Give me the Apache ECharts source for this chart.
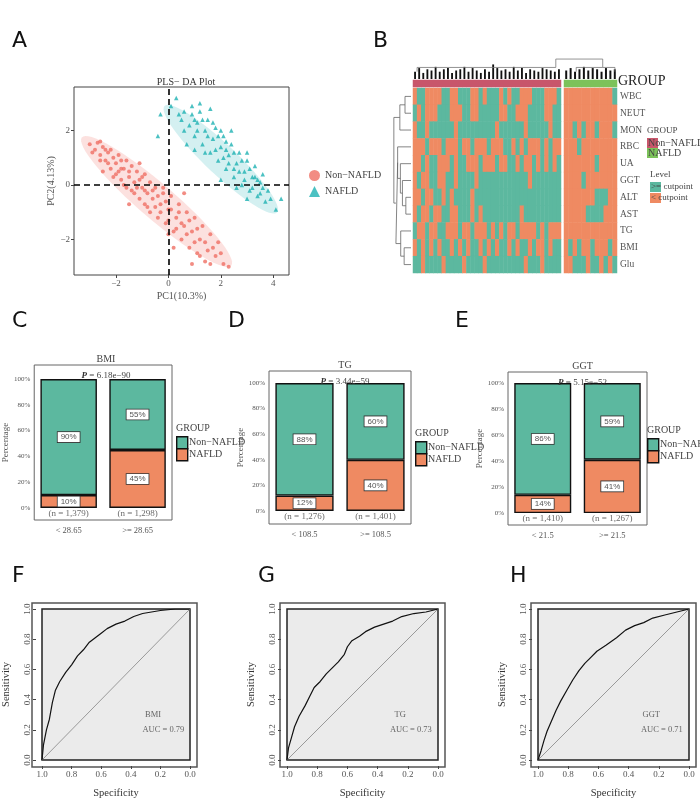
<!DOCTYPE html>
<html><head><meta charset="utf-8">
<script src="https://cdn.jsdelivr.net/npm/echarts@6/dist/echarts.min.js"></script>
<style>html,body{margin:0;background:#fff}#c{width:700px;height:800px}</style>
</head><body><div id="c"></div>
<script>
// ---------- DATA ----------
const pcaNon = [[-3.0,1.5],[-2.8,1.3],[-2.7,1.55],[-2.6,1.1],[-2.5,1.4],[-2.4,0.9],[-2.3,1.2],[-2.2,0.6],[-2.1,1.0],[-2.0,0.4],[-2.0,0.8],[-1.9,1.1],[-1.8,0.2],[-1.7,0.6],[-1.6,0.9],[-1.6,-0.1],[-1.5,0.3],[-1.4,0.7],[-1.3,-0.3],[-1.3,0.1],[-1.2,0.5],[-1.1,-0.5],[-1.0,-0.1],[-1.0,0.3],[-0.9,-0.7],[-0.8,-0.3],[-0.7,0.1],[-0.7,-1.0],[-0.6,-0.5],[-0.5,-0.1],[-0.4,-1.2],[-0.3,-0.7],[-0.2,-0.3],[-0.1,-1.4],[0.0,-0.9],[0.1,-0.4],[0.2,-1.7],[0.3,-1.2],[0.4,-0.7],[0.5,-2.0],[0.6,-1.5],[0.7,-1.0],[0.8,-2.3],[0.9,-1.7],[1.0,-1.2],[1.1,-2.5],[1.2,-2.0],[1.3,-1.5],[1.5,-2.4],[1.6,-1.8],[1.8,-2.6],[1.9,-2.1],[2.1,-2.9],[2.3,-3.0],[0.9,-2.9],[-1.5,-0.7],[-2.5,0.5],[0.6,-0.3],[-2.2,1.3],[-1.1,0.8],[-0.4,-0.4],[0.2,-2.3],[1.4,-2.8],[-0.9,0.4],[0.0,-1.8],
 [-2.9,1.2],[-2.6,1.6],[-2.4,1.3],[-2.3,0.8],[-2.1,0.3],[-1.9,0.5],[-1.8,0.9],[-1.7,0.0],[-1.5,0.5],[-1.4,-0.2],[-1.2,-0.1],[-1.1,0.2],[-0.9,-0.2],[-0.8,-0.8],[-0.6,-0.2],[-0.5,-0.8],[-0.3,-1.0],[-0.2,-0.1],[0.0,-1.3],[0.1,-0.9],[0.3,-1.6],[0.4,-1.0],[0.5,-1.4],[0.7,-1.8],[0.8,-1.3],[1.0,-2.1],[1.1,-1.6],[1.2,-2.6],[1.4,-2.1],[1.7,-2.3],[2.0,-2.5],[1.6,-2.9],[-0.1,-0.6],[-1.8,0.6],[-2.6,0.9]];
const pcaNaf = [[0.3,3.2],[-0.3,2.6],[-0.4,1.8],[0.1,2.9],[0.5,2.4],[0.6,2.7],[0.8,2.2],[0.9,2.6],[1.0,1.8],[1.1,2.3],[1.2,2.7],[1.3,1.5],[1.4,2.0],[1.5,2.4],[1.6,1.2],[1.7,1.7],[1.8,2.1],[1.9,0.9],[2.0,1.4],[2.1,1.8],[2.2,0.6],[2.3,1.1],[2.4,1.5],[2.5,0.3],[2.6,0.8],[2.7,1.2],[2.8,0.0],[2.9,0.5],[3.0,0.9],[3.1,-0.2],[3.2,0.3],[3.3,0.7],[3.4,-0.4],[3.5,0.1],[3.6,0.4],[3.7,-0.6],[3.8,-0.2],[4.1,-0.9],[4.3,-0.5],[1.0,1.3],[2.0,0.2],[1.2,3.0],[0.7,1.5],[2.6,-0.1],[3.0,-0.5],[1.6,2.8],[2.2,1.3],[3.4,0.2],
 [0.6,2.0],[0.9,2.9],[1.1,2.0],[1.3,2.4],[1.4,1.2],[1.5,1.8],[1.7,2.3],[1.8,1.3],[1.9,1.8],[2.1,1.0],[2.2,1.6],[2.3,0.8],[2.5,1.2],[2.5,0.6],[2.7,0.5],[2.8,0.9],[2.9,0.2],[3.1,0.6],[3.2,-0.1],[3.3,0.3],[3.5,-0.3],[3.6,-0.1],[3.9,-0.5],[2.4,2.0],[1.0,2.4],[0.4,2.6],[2.0,2.0],[3.0,1.2]];
const ellNon = {c:[-0.45,-0.6], a:[2.85,-2.35], b:[0.42,0.5]};
const ellNaf = {c:[2.0,0.95], a:[2.15,-1.95], b:[0.38,0.42]};

const heatRows = ['WBC','NEUT','MON','RBC','UA','GGT','ALT','AST','TG','BMI','Glu'];
// 1 = "< cutpoint" (orange), 0 = ">= cutpoint" (teal)
const heatNon = [
 "100111100110001101000101001110001110",
 "010111000111001100000110011100001100",
 "100100000010000000001000000100000100",
 "111011101110110111011100101011101011",
 "110100111010011101110110010110101010",
 "101100110010000100000000000010000000",
 "110110010100001000000000000000000000",
 "101101100110001010000000001000000000",
 "011011001110110111010101101111010111",
 "101010100101010010101001010010110100",
 "001000010000100001000000000100010000"];
const heatNaf = [
 "111111111110","111111111111","110101101110","111011111111","111111101111",
 "111101111111","111111100011","111110000111","111111111111","101011011101","110001001010"];
const dendNon = [6,9,5,8,7,10,6,8,9,5,7,8,10,6,9,7,5,8,6,12,9,7,8,6,10,7,9,5,8,7,6,9,8,7,6,8];
const dendNaf = [7,9,6,8,10,7,9,8,6,9,7,8];
const rowMerges = [[0,1,0.35],[11,2,0.65],[6,7,0.3],[5,13,0.5],[4,14,0.62],[3,15,0.78],[9,10,0.4],[8,17,0.6],[16,18,0.88],[12,19,1.0]];

const barPanels = [
 {title:'BMI', p:'6.18e−90', cats:['< 28.65','>= 28.65'], non:[90,55], naf:[10,45], n:['(n = 1,379)','(n = 1,298)']},
 {title:'TG',  p:'3.44e−59', cats:['< 108.5','>= 108.5'], non:[88,60], naf:[12,40], n:['(n = 1,276)','(n = 1,401)']},
 {title:'GGT', p:'5.15e−52', cats:['< 21.5','>= 21.5'],  non:[86,59], naf:[14,41], n:['(n = 1,410)','(n = 1,267)']}];

const rocF = [[1,0],[0.99,0.1],[0.97,0.2],[0.95,0.27],[0.93,0.38],[0.91,0.46],[0.88,0.52],[0.84,0.58],[0.8,0.63],[0.76,0.69],[0.72,0.73],[0.68,0.78],[0.64,0.81],[0.6,0.84],[0.56,0.87],[0.5,0.9],[0.44,0.92],[0.38,0.95],[0.32,0.97],[0.26,0.98],[0.2,0.99],[0.1,1],[0,1]];
const rocG = [[1,0],[0.99,0.08],[0.97,0.15],[0.95,0.22],[0.92,0.29],[0.88,0.36],[0.85,0.42],[0.82,0.48],[0.78,0.52],[0.74,0.57],[0.7,0.61],[0.66,0.65],[0.62,0.7],[0.6,0.75],[0.57,0.79],[0.52,0.82],[0.48,0.85],[0.42,0.88],[0.36,0.9],[0.3,0.92],[0.24,0.95],[0.16,0.97],[0.08,0.98],[0,1]];
const rocH = [[1,0],[0.98,0.06],[0.96,0.13],[0.94,0.19],[0.91,0.26],[0.88,0.33],[0.85,0.39],[0.81,0.46],[0.77,0.53],[0.73,0.59],[0.69,0.64],[0.65,0.68],[0.61,0.72],[0.55,0.76],[0.48,0.81],[0.42,0.86],[0.36,0.89],[0.3,0.91],[0.24,0.94],[0.16,0.96],[0.08,0.98],[0,1]];
const rocPanels = [{name:'BMI',auc:'AUC = 0.79',d:rocF},{name:'TG',auc:'AUC = 0.73',d:rocG},{name:'GGT',auc:'AUC = 0.71',d:rocH}];

// ---------- BUILD ----------
const SERIF = 'Liberation Serif';
const TEAL='#5cb89f', ORANGE='#ef8a62', RED='#ef6f64', CYAN='#1eb1b3', GRP_NON='#c8566b', GRP_NAF='#7cc25a';
const grids=[], xAxis=[], yAxis=[], series=[], titles=[], graphics=[], heatIdx=[];
function G(g,xa,ya){grids.push(Object.assign({containLabel:false},g));const i=grids.length-1;xa.gridIndex=i;ya.gridIndex=i;
 xa.axisLine=Object.assign({onZero:false},xa.axisLine||{});ya.axisLine=Object.assign({onZero:false},ya.axisLine||{});
 xAxis.push(xa);yAxis.push(ya);return i;}
const hidden = (t)=>({type:t||'value',show:false});
const lab = (s)=>({fontFamily:SERIF,fontSize:s||9,color:'#555'});

// Panel A
const gA = G({left:74,top:87,width:215,height:188,show:true,borderColor:'#444',borderWidth:1},
 {type:'value',min:-3.6,max:4.6,axisLine:{show:false},splitLine:{show:false},
  axisTick:{customValues:[-2,0,2,4],length:3,lineStyle:{color:'#444'}},axisLabel:Object.assign({customValues:[-2,0,2,4],margin:4,formatter:v=>String(v).replace('-','−')},lab(9)),
  name:'PC1(10.3%)',nameLocation:'middle',nameGap:16,nameTextStyle:lab(10)},
 {type:'value',min:-3.3,max:3.6,axisLine:{show:false},splitLine:{show:false},
  axisTick:{customValues:[-2,0,2],length:3,lineStyle:{color:'#444'}},axisLabel:Object.assign({customValues:[-2,0,2],margin:4,formatter:v=>String(v).replace('-','−')},lab(9)),
  name:'PC2(4.13%)',nameLocation:'middle',nameGap:14,nameTextStyle:lab(10)});
function ellSeries(e,color){
 return {type:'custom',xAxisIndex:gA,yAxisIndex:gA,silent:true,z:1,data:[[e.c[0],e.c[1]]],
  renderItem:(p,api)=>{const pts=[];for(let k=0;k<64;k++){const t=k/64*2*Math.PI;
    pts.push(api.coord([e.c[0]+Math.cos(t)*e.a[0]+Math.sin(t)*e.b[0], e.c[1]+Math.cos(t)*e.a[1]+Math.sin(t)*e.b[1]]));}
    return {type:'polygon',shape:{points:pts},style:{fill:color}};}};
}
series.push(ellSeries(ellNon,'rgba(240,120,110,0.22)'), ellSeries(ellNaf,'rgba(40,180,185,0.2)'));
series.push({type:'scatter',name:'Non−NAFLD',xAxisIndex:gA,yAxisIndex:gA,data:pcaNon,symbolSize:4,itemStyle:{color:RED},z:3,
 markLine:{silent:true,symbol:'none',label:{show:false},lineStyle:{color:'#000',type:[6,4],width:1.6},data:[{xAxis:0},{yAxis:0}]}});
series.push({type:'scatter',name:'NAFLD',xAxisIndex:gA,yAxisIndex:gA,data:pcaNaf,symbol:'triangle',symbolSize:4.5,itemStyle:{color:CYAN},z:3});
titles.push({text:'PLS− DA Plot',left:181,top:72,textAlign:'center',textStyle:{fontFamily:SERIF,fontSize:10,color:'#333',fontWeight:'normal'}});

// Panel B heatmaps (value: 0 teal, 1 orange, 2 group non, 3 group nafld)
function heatData(rows){const d=[];rows.forEach((r,ri)=>{for(let c=0;c<r.length;c++){d.push([c,ri,+r[c]]);}});return d;}
function heatGrid(left,width,rows,isNaf){
 const n=rows[0].length, cats=[...Array(n).keys()];
 const gi=G({left:left,top:88,width:width,height:185},{type:'category',data:cats,show:false},
  {type:'category',data:heatRows,inverse:true,position:'right',axisLine:{show:false},axisTick:{show:false},
   axisLabel:Object.assign({show:isNaf,margin:3},lab(9.5)),show:true});
 series.push({type:'heatmap',xAxisIndex:gi,yAxisIndex:gi,data:heatData(rows),silent:true});
 heatIdx.push(series.length-1);
 const gb=G({left:left,top:80,width:width,height:7},{type:'category',data:[0],show:false},{type:'category',data:[0],show:false});
 series.push({type:'heatmap',xAxisIndex:gb,yAxisIndex:gb,data:[[0,0,isNaf?3:2]],silent:true});
 heatIdx.push(series.length-1);
}
heatGrid(413,148,heatNon,false);
heatGrid(564,53,heatNaf,true);
function dendGrid(left,width,h){
 const gi=G({left:left,top:62,width:width,height:17},{type:'category',data:h.map((_,i)=>i),show:false},{type:'value',min:0,max:14,show:false});
 series.push({type:'bar',xAxisIndex:gi,yAxisIndex:gi,data:h,barWidth:'45%',itemStyle:{color:'#111'},silent:true});
}
dendGrid(413,148,dendNon); dendGrid(564,53,dendNaf);
{const gi=G({left:413,top:58,width:204,height:21},{type:'value',min:0,max:1,show:false},{type:'value',min:0,max:1,show:false});
 series.push({type:'line',xAxisIndex:gi,yAxisIndex:gi,symbol:'none',silent:true,lineStyle:{color:'#777',width:0.8},
  data:[[0.02,0.35],[0.02,0.55],[0.7,0.55],[0.7,0.95],[0.93,0.95],[0.93,0.55],[0.8,0.55],[0.8,0.35],null,[0.93,0.55],[0.99,0.55],[0.99,0.35]],connectNulls:false});}
{const gi=G({left:393,top:88,width:18,height:185},{type:'value',min:0,max:1.05,inverse:true,show:false},{type:'value',min:0,max:11,inverse:true,show:false});
 const pos=heatRows.map((_,i)=>i+0.5), hts=heatRows.map(()=>0), segs=[];
 rowMerges.forEach(([a,b,h])=>{segs.push([hts[a],pos[a]],[h,pos[a]],[h,pos[b]],[hts[b],pos[b]],null);pos.push((pos[a]+pos[b])/2);hts.push(h);});
 series.push({type:'line',xAxisIndex:gi,yAxisIndex:gi,data:segs,symbol:'none',silent:true,connectNulls:false,lineStyle:{color:'#666',width:0.8}});}
graphics.push(
 {type:'text',left:618,top:74,style:{text:'GROUP',font:'14px "Liberation Serif"',fill:'#222'}},
 {type:'text',left:647,top:126,style:{text:'GROUP',font:'9px "Liberation Serif"',fill:'#444'}},
 {type:'rect',left:647,top:138,shape:{width:11,height:10},style:{fill:GRP_NON}},
 {type:'rect',left:647,top:148,shape:{width:11,height:10},style:{fill:GRP_NAF}},
 {type:'text',left:648,top:138,style:{text:'Non−NAFLD',font:'10px "Liberation Serif"',fill:'#444'}},
 {type:'text',left:648,top:148,style:{text:'NAFLD',font:'10px "Liberation Serif"',fill:'#444'}},
 {type:'text',left:650,top:170,style:{text:'Level',font:'9px "Liberation Serif"',fill:'#444'}},
 {type:'rect',left:650,top:182,shape:{width:11,height:10},style:{fill:TEAL}},
 {type:'rect',left:650,top:193,shape:{width:11,height:10},style:{fill:ORANGE}},
 {type:'text',left:651,top:182,style:{text:'>= cutpoint',font:'9px "Liberation Serif"',fill:'#444'}},
 {type:'text',left:651,top:193,style:{text:'< cutpoint',font:'9px "Liberation Serif"',fill:'#444'}});

// Panels C,D,E
const barBoxes=[{l:30,t:365,w:142,h:155,min:-9.3,max:110.9,leg:[176,423]},{l:269,t:371,w:142,h:153,min:-10.2,max:109.4,leg:[415,428]},{l:508,t:372,w:139,h:153,min:-9.2,max:108.5,leg:[647,425]}];
barPanels.forEach((p,i)=>{
 const b=barBoxes[i];
 const gi=G({left:b.l,top:b.t,width:b.w,height:b.h,show:true,borderColor:'#666',borderWidth:1},
  {type:'category',data:p.cats,axisLine:{show:false},axisTick:{length:3,alignWithLabel:true,lineStyle:{color:'#444'}},axisLabel:Object.assign({margin:6},lab(8.5))},
  {type:'value',min:b.min,max:b.max,splitLine:{show:false},axisLine:{show:false},
   axisTick:{customValues:[0,20,40,60,80,100],length:3,lineStyle:{color:'#444'}},
   axisLabel:Object.assign({customValues:[0,20,40,60,80,100],formatter:'{value}%',margin:4},lab(7)),
   name:'Percentage',nameLocation:'middle',nameGap:24,nameTextStyle:lab(9)});
 const lbl={show:true,position:'inside',formatter:'{c}%',backgroundColor:'#fff',borderColor:'#333',borderWidth:0.8,padding:[1,3],fontSize:8,color:'#555'};
 series.push({type:'bar',xAxisIndex:gi,yAxisIndex:gi,stack:'s'+i,data:p.naf,barWidth:'82%',itemStyle:{color:ORANGE,borderColor:'#111',borderWidth:1.4},label:lbl,silent:true});
 series.push({type:'bar',xAxisIndex:gi,yAxisIndex:gi,stack:'s'+i,data:p.non,barWidth:'82%',itemStyle:{color:TEAL,borderColor:'#111',borderWidth:1.4},label:lbl,silent:true});
 series.push({type:'scatter',xAxisIndex:gi,yAxisIndex:gi,symbolSize:0,silent:true,data:p.n.map((t,k)=>({value:[k,-4.5],label:{show:true,formatter:t,position:'inside',fontFamily:SERIF,fontSize:9,color:'#444'}}))});
 titles.push({text:p.title,left:b.l+b.w/2,top:b.t-16,textAlign:'center',textStyle:{fontFamily:SERIF,fontSize:10,color:'#444',fontWeight:'normal'}});
 titles.push({text:'{b|P} = '+p.p,left:b.l+b.w/2,top:b.t+1,textAlign:'center',textStyle:{fontFamily:SERIF,fontSize:9,color:'#444',fontWeight:'normal',rich:{b:{fontFamily:SERIF,fontSize:9,fontWeight:'bold',fontStyle:'italic',color:'#333'}}}});
 const [lx,ly]=b.leg;
 graphics.push({type:'text',left:lx,top:ly,style:{text:'GROUP',font:'10px "Liberation Serif"',fill:'#444'}},
  {type:'rect',left:lx,top:ly+13,shape:{width:11,height:12},style:{fill:TEAL,stroke:'#111',lineWidth:1.4}},
  {type:'rect',left:lx,top:ly+25,shape:{width:11,height:12},style:{fill:ORANGE,stroke:'#111',lineWidth:1.4}},
  {type:'text',left:lx+13,top:ly+14,style:{text:'Non−NAFLD',font:'10px "Liberation Serif"',fill:'#444'}},
  {type:'text',left:lx+13,top:ly+26,style:{text:'NAFLD',font:'10px "Liberation Serif"',fill:'#444'}});
});

// Panels F,G,H
const rocBoxes=[39,287,538];
rocPanels.forEach((p,i)=>{
 const L=rocBoxes[i];
 G({left:L-7,top:603,width:165,height:164,show:true,borderColor:'#555',borderWidth:1.5,backgroundColor:'#fff'},hidden(),hidden());
 const gi=G({left:L,top:609,width:151,height:152,show:true,borderColor:'#222',borderWidth:1.5,backgroundColor:'#ebebeb'},
  {type:'value',min:0,max:1,interval:0.2,inverse:true,offset:6,splitLine:{show:false},axisLine:{show:false},
   axisTick:{length:3,lineStyle:{color:'#444'}},axisLabel:Object.assign({formatter:v=>v.toFixed(1),margin:4},lab(9)),
   name:'Specificity',nameLocation:'middle',nameGap:22,nameTextStyle:Object.assign(lab(10.5),{color:'#333'})},
  {type:'value',min:0,max:1,interval:0.2,offset:6,splitLine:{show:false},axisLine:{show:false},
   axisTick:{length:3,lineStyle:{color:'#444'}},axisLabel:Object.assign({formatter:v=>v.toFixed(1),margin:4,rotate:90},lab(9)),
   name:'Sensitivity',nameLocation:'middle',nameGap:24,nameTextStyle:Object.assign(lab(10.5),{color:'#333'})});
 series.push({type:'line',xAxisIndex:gi,yAxisIndex:gi,data:[[1,0],[0,1]],symbol:'none',silent:true,lineStyle:{color:'#999',width:1}});
 series.push({type:'line',xAxisIndex:gi,yAxisIndex:gi,data:p.d,symbol:'none',silent:true,lineStyle:{color:'#111',width:1.2}});
 series.push({type:'scatter',xAxisIndex:gi,yAxisIndex:gi,symbolSize:0,silent:true,data:[
  {value:[0.25,0.3],label:{show:true,formatter:p.name,position:'inside',fontFamily:SERIF,fontSize:8.5,color:'#444'}},
  {value:[0.18,0.2],label:{show:true,formatter:p.auc,position:'inside',fontFamily:SERIF,fontSize:8.5,color:'#444'}}]});
});

[['A',12,30],['B',373,30],['C',12,310],['D',228,310],['E',455,310],['F',12,565],['G',258,565],['H',510,565]].forEach(([t,x,y])=>{
 graphics.push({type:'text',left:x,top:y,style:{text:t,font:'22px "DejaVu Sans"',fill:'#111'}});});

const chart=echarts.init(document.getElementById('c'));
chart.setOption({animation:false,backgroundColor:'#fff',title:titles,grid:grids,xAxis:xAxis,yAxis:yAxis,series:series,graphic:graphics,
 visualMap:{type:'piecewise',show:false,seriesIndex:heatIdx,dimension:2,
  pieces:[{value:0,color:TEAL},{value:1,color:ORANGE},{value:2,color:GRP_NON},{value:3,color:GRP_NAF}]},
 legend:{data:['Non−NAFLD','NAFLD'],orient:'vertical',left:304,top:165,itemWidth:11,itemHeight:11,itemGap:5,textStyle:{fontFamily:SERIF,fontSize:10,color:'#444'}}});
</script></body></html>
